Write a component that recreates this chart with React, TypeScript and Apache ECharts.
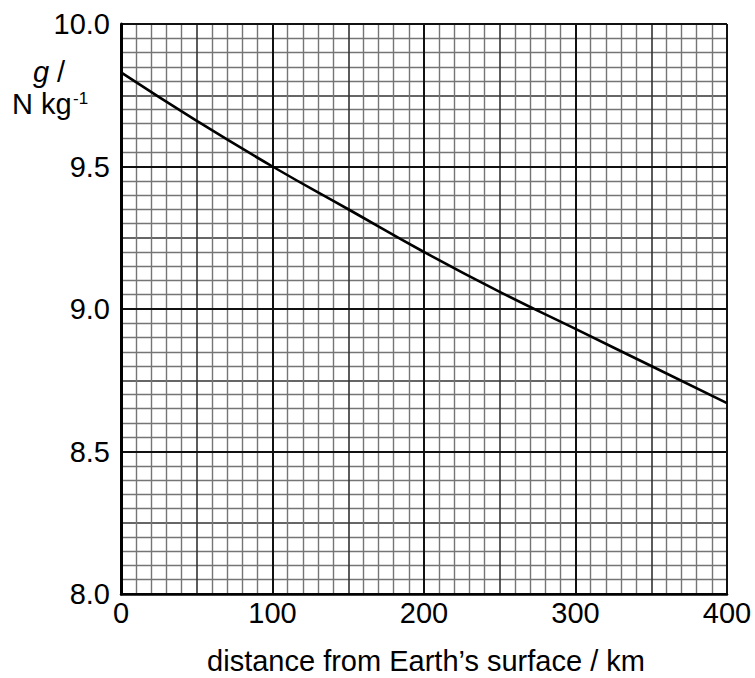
import React, { useEffect, useRef } from "react";
import * as echarts from "echarts";

const distanceKm = [0, 50, 100, 150, 200, 250, 300, 350, 400];
const gValues = [9.83, 9.66, 9.5, 9.35, 9.2, 9.06, 8.93, 8.8, 8.67];

const xMin = 0;
const xMax = 400;
const yMin = 8.0;
const yMax = 10.0;

const xTitle = "distance from Earth\u2019s surface / km";

const FONT = "'Liberation Sans', Arial, sans-serif";
const FS = 29;

export default function App() {
  const ref = useRef<HTMLDivElement>(null);
  useEffect(() => {
    if (!ref.current) return;
    const chart = echarts.init(ref.current, undefined, { renderer: "svg" });
    const hidden = {
      axisLine: { show: false },
      axisTick: { show: false },
      axisLabel: { show: false },
    };
    chart.setOption({
      animation: false,
      backgroundColor: "#ffffff",
      grid: { left: 121, top: 24, right: 28, bottom: 84, containLabel: false },
      xAxis: [
        {
          type: "value",
          min: xMin,
          max: xMax,
          interval: 50,
          position: "top",
          z: 0,
          ...hidden,
          splitLine: { show: true, lineStyle: { color: "#333333", width: 1.6 } },
          minorTick: { show: false, splitNumber: 5 },
          minorSplitLine: { show: true, lineStyle: { color: "#757575", width: 1.4 } },
        },
        {
          type: "value",
          min: xMin,
          max: xMax,
          interval: 100,
          position: "bottom",
          z: 1,
          axisLine: { show: true, onZero: false, lineStyle: { color: "#000", width: 2.5 } },
          axisTick: { show: false },
          axisLabel: {
            show: true,
            margin: 4,
            color: "#000",
            fontSize: FS,
            fontFamily: FONT,
          },
          splitLine: { show: true, lineStyle: { color: "#111", width: 2 } },
        },
      ],
      yAxis: [
        {
          type: "value",
          min: yMin,
          max: yMax,
          interval: 0.25,
          position: "right",
          z: 0,
          ...hidden,
          splitLine: { show: true, lineStyle: { color: "#333333", width: 1.6 } },
          minorTick: { show: false, splitNumber: 5 },
          minorSplitLine: { show: true, lineStyle: { color: "#757575", width: 1.4 } },
        },
        {
          type: "value",
          min: yMin,
          max: yMax,
          interval: 0.5,
          position: "left",
          z: 1,
          axisLine: { show: true, onZero: false, lineStyle: { color: "#000", width: 3 } },
          axisTick: { show: false },
          axisLabel: {
            show: true,
            margin: 11,
            color: "#000",
            fontSize: FS,
            fontFamily: FONT,
            formatter: (v: number) => v.toFixed(1),
          },
          splitLine: { show: true, lineStyle: { color: "#111", width: 2 } },
        },
      ],
      series: [
        {
          type: "line",
          xAxisIndex: 1,
          yAxisIndex: 1,
          data: distanceKm.map((d, i) => [d, gValues[i]]),
          smooth: true,
          showSymbol: false,
          lineStyle: { color: "#000", width: 2.6 },
          z: 5,
        },
      ],
      graphic: [
        {
          type: "text",
          x: 49,
          y: 72,
          style: {
            text: "{it|g} /",
            textAlign: "center",
            textVerticalAlign: "middle",
            fontSize: FS,
            lineHeight: 24,
            fontFamily: FONT,
            fill: "#000",
            rich: {
              it: { fontSize: FS, lineHeight: 24, fontFamily: FONT, fontStyle: "italic", fill: "#000" },
            },
          },
        },
        {
          type: "text",
          x: 12,
          y: 104,
          style: {
            text: "N kg",
            textAlign: "left",
            textVerticalAlign: "middle",
            fontSize: FS,
            lineHeight: 24,
            fontFamily: FONT,
            fill: "#000",
          },
        },
        {
          type: "text",
          x: 73,
          y: 98,
          style: {
            text: "-1",
            textAlign: "left",
            textVerticalAlign: "middle",
            fontSize: 17,
            lineHeight: 14,
            fontFamily: FONT,
            fill: "#000",
          },
        },
        {
          type: "text",
          x: 426,
          y: 661,
          style: {
            text: xTitle,
            textAlign: "center",
            textVerticalAlign: "middle",
            fontSize: FS,
            fontFamily: FONT,
            fill: "#000",
          },
        },
      ],
    });
    return () => chart.dispose();
  }, []);
  return (
    <div
      ref={ref}
      style={{ position: "fixed", left: 0, top: 0, width: 755, height: 678 }}
    />
  );
}
